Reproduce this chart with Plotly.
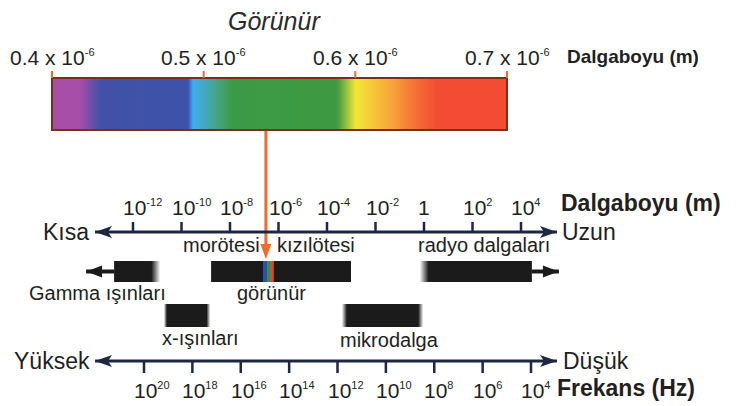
import plotly.graph_objects as go

# ---------------- data ----------------
# visible band (micrometres)
vis_ticks = [0.4, 0.5, 0.6, 0.7]
vis_tick_text = ["0.4 x 10", "0.5 x 10", "0.6 x 10", "0.7 x 10"]
vis_color_pos = [0.4, 0.4185, 0.4316, 0.4897, 0.493, 0.5075, 0.519, 0.588, 0.6004, 0.625, 0.636, 0.654, 0.7]
vis_colors = ["#a64ea8", "#a64ea8", "#4251a8", "#3d52aa", "#3eaeee", "#45a58e", "#3c9a46",
              "#3d9a42", "#f4e637", "#f7a23c", "#f57a36", "#f24c33", "#f24c33"]
vis_arrow_exp = -6.52          # where the "görünür" arrow lands (log10 wavelength)

# wavelength axis (log10 m) and frequency axis (log10 Hz)
wl_exp = [-12, -10, -8, -6, -4, -2, 0, 2, 4]
freq_exp = [20, 18, 16, 14, 12, 10, 8, 6, 4]

# spectrum bands (log10 wavelength)
band_names = ["Gamma ışınları", "x-ışınları", "morötesi-kızılötesi", "mikrodalga", "radyo dalgaları"]
band_start = [-12.78, -10.72, -8.78, -3.38, -0.16]
band_end = [-10.89, -8.82, -3.01, -0.04, 4.45]
band_row = [1, 2, 1, 2, 1]
band_fade_left = [0.0, 0.12, 0.0, 0.2, 0.35]
band_fade_right = [0.35, 0.15, 0.0, 0.2, 0.0]
visible_stripe = [-6.64, -6.19]

# labels (text, log10 wavelength position, vertical position)
label_text = ["morötesi", "kızılötesi", "radyo dalgaları", "Gamma ışınları", "görünür", "x-ışınları", "mikrodalga"]
label_pos = [-8.37, -4.45, 2.47, -13.48, -6.27, -9.2, -1.44]
label_y = [245, 245, 245, 293, 293, 338, 340]

# ---------------- layout constants ----------------
FONT = "Liberation Sans, Arial, Helvetica, sans-serif"
TXT = "#231f20"
AX = "#1d2740"
W, H = 743, 406
PX_DEC_WL = 24.25      # px per decade, wavelength axis
PX_DEC_F = 24.1875     # px per decade, frequency axis
PX_UM = 1516.67        # px per micrometre, visible bar
row_y = {1: (261, 282), 2: (304, 327)}
WL_AXIS_Y, F_AXIS_Y = 232, 361
SPEC_Y = (78, 130)
SUP = "<sup><span style='font-size:11px'>{}</span></sup>"

fig = go.Figure()

# visible spectrum bar (gradient)
x0, x1 = vis_ticks[0], vis_ticks[-1]
span = x1 - x0
cs = [[(p - x0) / span, c] for p, c in zip(vis_color_pos, vis_colors)]
fig.add_trace(go.Scatter(
    x=[x0, x1, x1, x0, x0], y=[SPEC_Y[0]] * 2 + [SPEC_Y[1]] * 2 + [SPEC_Y[0]],
    xaxis="x3", yaxis="y", mode="lines", line=dict(width=0), fill="toself",
    fillgradient=dict(type="horizontal", colorscale=cs), hoverinfo="skip", showlegend=False))

# bands
BAR = "#1b1b1b"
for s, e, r, fl, fr in zip(band_start, band_end, band_row, band_fade_left, band_fade_right):
    y0, y1 = row_y[r]
    L = e - s
    stops = [[0, "rgba(27,27,27,0.05)" if fl > 0 else BAR]]
    if fl > 0:
        stops.append([fl / L, BAR])
    if fr > 0:
        stops.append([1 - fr / L, BAR])
        stops.append([1, "rgba(27,27,27,0.05)"])
    else:
        stops.append([1, BAR])
    fig.add_trace(go.Scatter(
        x=[s, e, e, s, s], y=[y0, y0, y1, y1, y0], mode="lines", line=dict(width=0),
        fill="toself", fillgradient=dict(type="horizontal", colorscale=stops),
        hoverinfo="skip", showlegend=False))

# visible stripe inside the UV/IR bar
y0, y1 = row_y[1]
fig.add_trace(go.Scatter(
    x=[visible_stripe[0], visible_stripe[1], visible_stripe[1], visible_stripe[0], visible_stripe[0]],
    y=[y0, y0, y1, y1, y0], mode="lines", line=dict(width=0), fill="toself",
    fillgradient=dict(type="horizontal", colorscale=[
        [0, "#2f4fb0"], [0.36, "#2f4fb0"], [0.38, "#2f9a4a"], [0.62, "#3a8a40"],
        [0.66, "#d0542c"], [1, "#c04a28"]]),
    hoverinfo="skip", showlegend=False))

shapes = []
annotations = []

# spectrum bar outline and ticks
shapes.append(dict(type="rect", xref="x3", yref="y", x0=x0, x1=x1, y0=SPEC_Y[0], y1=SPEC_Y[1],
                   line=dict(color="#7a2e1c", width=2), fillcolor="rgba(0,0,0,0)"))
for t, txt in zip(vis_ticks, vis_tick_text):
    shapes.append(dict(type="line", xref="x3", yref="y", x0=t, x1=t, y0=SPEC_Y[0] - 7, y1=SPEC_Y[0],
                       line=dict(color="#f06a2a", width=2)))
    annotations.append(dict(x=t, y=57, xref="x3", yref="y", showarrow=False, xanchor="center",
                            yanchor="middle", text=txt + SUP.format("-6"),
                            font=dict(family=FONT, size=21, color=TXT)))
annotations.append(dict(x=vis_ticks[-1], y=56, xref="x3", yref="y", showarrow=False, xanchor="left",
                        xshift=58, yanchor="middle", text="<b>Dalgaboyu (m)</b>",
                        font=dict(family=FONT, size=19, color=TXT)))
annotations.append(dict(x=0.547, y=21, xref="x3", yref="y", showarrow=False, xanchor="center",
                        yanchor="middle", text="<i>Görünür</i>",
                        font=dict(family=FONT, size=25, color="#2a2a2a")))

# orange arrow
ORANGE = "#f26a2c"
shapes.append(dict(type="line", xref="x", yref="y", x0=vis_arrow_exp, x1=vis_arrow_exp,
                   y0=SPEC_Y[1] + 1, y1=246, line=dict(color=ORANGE, width=3)))
shapes.append(dict(type="path", xref="x", yref="y", xsizemode="pixel", xanchor=vis_arrow_exp,
                   path="M-5.5,244 L5.5,244 L0,259 Z", fillcolor=ORANGE, line=dict(width=0)))

# generic axis arrows
def axis_arrows(xref, tipL, tipR, y):
    shapes.append(dict(type="line", xref=xref, yref="y", x0=tipL, x1=tipR, y0=y, y1=y,
                       line=dict(color=AX, width=3)))
    shapes.append(dict(type="path", xref=xref, yref="y", xsizemode="pixel", xanchor=tipL,
                       path=f"M0,{y} L17,{y-6} L13,{y} L17,{y+6} Z", fillcolor=AX, line=dict(width=0)))
    shapes.append(dict(type="path", xref=xref, yref="y", xsizemode="pixel", xanchor=tipR,
                       path=f"M0,{y} L-17,{y-6} L-13,{y} L-17,{y+6} Z", fillcolor=AX, line=dict(width=0)))

# wavelength axis
axis_arrows("x", wl_exp[0] - 38 / PX_DEC_WL, wl_exp[-1] + 36 / PX_DEC_WL, WL_AXIS_Y)
for e in wl_exp:
    shapes.append(dict(type="line", xref="x", yref="y", x0=e, x1=e, y0=WL_AXIS_Y - 10, y1=WL_AXIS_Y,
                       line=dict(color=AX, width=2.5)))
    if e == 0:
        annotations.append(dict(x=e, y=207, xref="x", yref="y", showarrow=False, xanchor="center",
                                yanchor="middle", text="1", font=dict(family=FONT, size=21, color=TXT)))
    else:
        annotations.append(dict(x=e, y=207, xref="x", yref="y", showarrow=False, xanchor="left",
                                xshift=-12, yanchor="middle",
                                text="10" + SUP.format(e),
                                font=dict(family=FONT, size=21, color=TXT)))
annotations.append(dict(x=wl_exp[-1], y=203, xref="x", yref="y", showarrow=False, xanchor="left",
                        xshift=38, yanchor="middle", text="<b>Dalgaboyu (m)</b>",
                        font=dict(family=FONT, size=23, color=TXT)))
annotations.append(dict(x=wl_exp[0] - 38 / PX_DEC_WL, y=WL_AXIS_Y, xref="x", yref="y", showarrow=False,
                        xanchor="right", xshift=-4, yanchor="middle", text="Kısa",
                        font=dict(family=FONT, size=23, color=TXT)))
annotations.append(dict(x=wl_exp[-1] + 36 / PX_DEC_WL, y=WL_AXIS_Y, xref="x", yref="y", showarrow=False,
                        xanchor="left", xshift=3, yanchor="middle", text="Uzun",
                        font=dict(family=FONT, size=23, color=TXT)))

# frequency axis
axis_arrows("x2", freq_exp[0] + 49 / PX_DEC_F, freq_exp[-1] - 26 / PX_DEC_F, F_AXIS_Y)
for f in freq_exp:
    shapes.append(dict(type="line", xref="x2", yref="y", x0=f, x1=f, y0=F_AXIS_Y, y1=F_AXIS_Y + 12,
                       line=dict(color=AX, width=2.5)))
    annotations.append(dict(x=f, y=390, xref="x2", yref="y", showarrow=False, xanchor="left",
                            xshift=-12, yanchor="middle",
                            text="10" + SUP.format(f),
                            font=dict(family=FONT, size=21, color=TXT)))
annotations.append(dict(x=freq_exp[-1], y=388, xref="x2", yref="y", showarrow=False, xanchor="left",
                        xshift=24, yanchor="middle", text="<b>Frekans (Hz)</b>",
                        font=dict(family=FONT, size=23, color=TXT)))
annotations.append(dict(x=freq_exp[0] + 49 / PX_DEC_F, y=F_AXIS_Y, xref="x2", yref="y", showarrow=False,
                        xanchor="right", xshift=-3, yanchor="middle", text="Yüksek",
                        font=dict(family=FONT, size=23, color=TXT)))
annotations.append(dict(x=freq_exp[-1] - 26 / PX_DEC_F, y=F_AXIS_Y, xref="x2", yref="y", showarrow=False,
                        xanchor="left", xshift=4, yanchor="middle", text="Düşük",
                        font=dict(family=FONT, size=23, color=TXT)))

# band arrows (gamma to the left, radio to the right)
gi, ri = 0, 4
gy = sum(row_y[band_row[gi]]) / 2
shapes.append(dict(type="line", xref="x", yref="y", x0=band_start[gi] - 28 / PX_DEC_WL, x1=band_start[gi],
                   y0=gy, y1=gy, line=dict(color=BAR, width=4)))
shapes.append(dict(type="path", xref="x", yref="y", xsizemode="pixel", xanchor=band_start[gi] - 28 / PX_DEC_WL,
                   path=f"M0,{gy} L16,{gy-6} L16,{gy+6} Z", fillcolor=BAR, line=dict(width=0)))
ry = sum(row_y[band_row[ri]]) / 2
shapes.append(dict(type="line", xref="x", yref="y", x0=band_end[ri], x1=band_end[ri] + 27 / PX_DEC_WL,
                   y0=ry, y1=ry, line=dict(color=BAR, width=4)))
shapes.append(dict(type="path", xref="x", yref="y", xsizemode="pixel", xanchor=band_end[ri] + 27 / PX_DEC_WL,
                   path=f"M0,{ry} L-16,{ry-6} L-16,{ry+6} Z", fillcolor=BAR, line=dict(width=0)))

# band labels
for t, p, yy in zip(label_text, label_pos, label_y):
    annotations.append(dict(x=p, y=yy, xref="x", yref="y", showarrow=False, xanchor="center",
                            yanchor="middle", text=t, font=dict(family=FONT, size=20, color=TXT)))

wl_lo = wl_exp[0] - 133 / PX_DEC_WL
wl_hi = wl_exp[0] + (W - 133) / PX_DEC_WL
f_lo = freq_exp[0] + 144 / PX_DEC_F
f_hi = freq_exp[0] - (W - 144) / PX_DEC_F
v_lo = vis_ticks[0] - 52 / PX_UM
v_hi = vis_ticks[0] + (W - 52) / PX_UM

hidden = dict(visible=False, showgrid=False, zeroline=False, fixedrange=True)
fig.update_layout(
    width=W, height=H, margin=dict(l=0, r=0, t=0, b=0),
    paper_bgcolor="white", plot_bgcolor="white", showlegend=False,
    xaxis=dict(range=[wl_lo, wl_hi], domain=[0, 1], **hidden),
    xaxis2=dict(range=[f_lo, f_hi], overlaying="x", anchor="y", **hidden),
    xaxis3=dict(range=[v_lo, v_hi], overlaying="x", anchor="y", **hidden),
    yaxis=dict(range=[H, 0], domain=[0, 1], **hidden),
    shapes=shapes, annotations=annotations,
)

fig.write_html("out.html", config={"displayModeBar": False},
               post_script="document.body.style.margin='0';document.body.style.overflow='hidden';")
